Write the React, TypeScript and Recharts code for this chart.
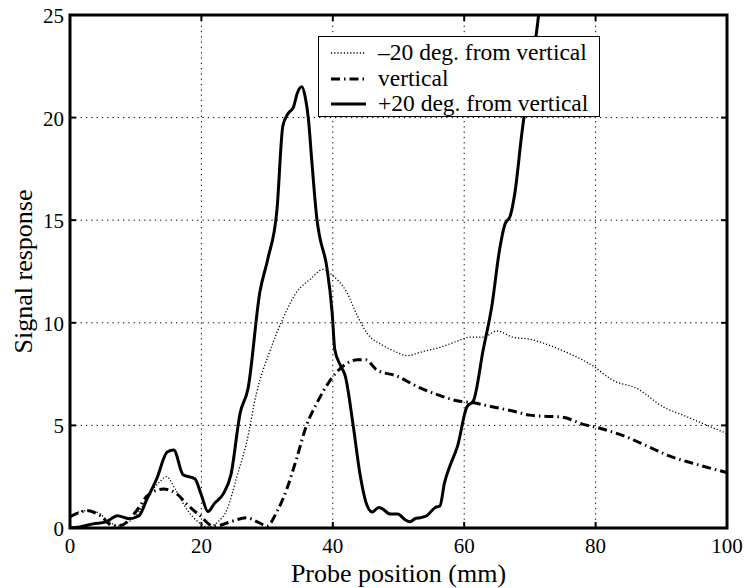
import React from 'react';
import { LineChart, Line, XAxis, YAxis, CartesianGrid, ReferenceArea } from 'recharts';

const FONT = "'Liberation Serif', 'Times New Roman', Times, serif";

// plot box size, used for the inward ticks on the opposite edges
const PLOT_W = 657;
const PLOT_H = 513;

const xTicks = [0, 20, 40, 60, 80, 100];
const yTicks = [0, 5, 10, 15, 20, 25];

// -20 deg. from vertical (dotted)
const minusX = [0, 1.5, 3, 4.5, 6, 7.5, 9, 10.5, 12, 13.5, 14.7, 16, 17.8, 19.5, 21, 22.5, 23.9, 25.4, 26.9, 28.4, 30.4, 32.4, 34.5, 36.5, 38.5, 40, 42.1, 43.8, 45.2, 47.6, 49.5, 51.3, 53.7, 56.3, 58.9, 60.9, 62.9, 65, 67.4, 70, 73, 76, 79.6, 82.6, 86.3, 90.3, 93.3, 97, 100];
const minusY = [0.5, 0.8, 0.85, 0.7, 0.3, 0.1, 0.3, 0.8, 1.6, 2.2, 2.5, 1.9, 0.9, 0.3, 0.05, 0.3, 0.9, 2.5, 4.2, 6.6, 8.6, 10.2, 11.5, 12.1, 12.6, 12.3, 11.5, 10.3, 9.5, 8.9, 8.6, 8.4, 8.6, 8.8, 9.1, 9.3, 9.3, 9.6, 9.3, 9.2, 8.9, 8.5, 7.9, 7.2, 6.8, 5.9, 5.5, 5.0, 4.6];

// vertical (dash-dot)
const vertX = [0, 1, 2.6, 4.6, 6.6, 8, 9.1, 10.5, 11.7, 14.2, 16.3, 17.8, 19.8, 21.8, 23, 24.4, 26.9, 28.5, 30, 31.5, 33, 34.5, 36, 37.6, 39.6, 41.6, 43.8, 45, 46.7, 49.8, 52.8, 55.9, 58.9, 61.4, 64.4, 67.4, 70, 72, 75, 78, 80.2, 84.2, 87.8, 91.3, 95.4, 100];
const vertY = [0.55, 0.7, 0.85, 0.6, 0.1, 0.15, 0.45, 1.0, 1.55, 1.9, 1.65, 1.15, 0.6, 0.1, 0.15, 0.3, 0.5, 0.3, 0.1, 0.8, 1.9, 3.4, 5.0, 6.1, 7.2, 7.9, 8.2, 8.2, 7.7, 7.4, 6.9, 6.5, 6.2, 6.1, 5.9, 5.7, 5.5, 5.45, 5.4, 5.06, 4.9, 4.5, 4.0, 3.5, 3.1, 2.7];

// +20 deg. from vertical (solid)
const plusX = [0, 1.5, 3.5, 5.5, 7.2, 9, 10.5, 11.7, 13.2, 14.8, 15.8, 17.2, 19, 20, 21, 22, 23.3, 24.5, 25.9, 27.1, 28.9, 30.1, 31.5, 32.4, 33.2, 34, 34.6, 35.3, 35.8, 36.3, 36.8, 37.6, 38, 39.1, 39.9, 40.3, 41.2, 41.9, 43.1, 44.1, 45, 46, 47, 47.5, 48.7, 49.9, 51, 51.7, 52.5, 53.3, 54.3, 55.6, 56.3, 57, 57.8, 59, 60.4, 61.4, 62.9, 64.2, 65.4, 66.2, 67, 67.7, 68.8, 70, 71.1, 72, 73];
const plusY = [0, 0.05, 0.2, 0.3, 0.6, 0.45, 0.6, 1.4, 2.4, 3.7, 3.8, 2.6, 2.4, 1.6, 0.8, 1.2, 1.65, 2.6, 5.6, 6.8, 11.5, 13.1, 15.5, 19.6, 20.2, 20.5, 21.2, 21.5, 21.0, 19.9, 17.9, 15.0, 14.2, 12.7, 10.5, 8.7, 7.9, 7.4, 5.0, 2.7, 1.3, 0.78, 1.0, 0.95, 0.68, 0.68, 0.4, 0.3, 0.45, 0.5, 0.6, 1.0, 1.07, 2.2, 3.0, 4.0, 5.9, 6.2, 8.7, 10.8, 13.6, 14.8, 15.2, 16.3, 19.3, 22.0, 24.4, 27.0, 30.0];

const legendLabels = ['\u201320 deg. from vertical', 'vertical', '+20 deg. from vertical'];
const legendDash = ['1.2 2', '9 4 1.5 4', undefined];
const legendWidth = [1.3, 3, 3];

const toPoints = (xs: number[], ys: number[]) => xs.map((x, i) => ({ x, y: ys[i] }));

const BottomTick = (props: any) => {
  const { x, y, payload } = props;
  return (
    <g>
      <line x1={x} y1={y} x2={x} y2={y - 6} stroke="#000" strokeWidth={2} />
      <line x1={x} y1={y - PLOT_H} x2={x} y2={y - PLOT_H + 6} stroke="#000" strokeWidth={2} />
      <text x={x} y={y + 25} textAnchor="middle" fontSize={21} fontFamily={FONT} fill="#000">
        {payload.value}
      </text>
    </g>
  );
};

const LeftTick = (props: any) => {
  const { x, y, payload } = props;
  return (
    <g>
      <line x1={x} y1={y} x2={x + 6} y2={y} stroke="#000" strokeWidth={2} />
      <line x1={x + PLOT_W} y1={y} x2={x + PLOT_W - 6} y2={y} stroke="#000" strokeWidth={2} />
      <text x={x - 6} y={y + 8} textAnchor="end" fontSize={21} fontFamily={FONT} fill="#000">
        {payload.value}
      </text>
    </g>
  );
};

const XTitle = (props: any) => {
  const vb = props.viewBox || { x: 70, y: 528, width: PLOT_W, height: 60 };
  const cx = vb.x + vb.width / 2;
  return (
    <text x={cx} y={582} textAnchor="middle" fontSize={26} fontFamily={FONT} fill="#000">
      Probe position (mm)
    </text>
  );
};

const YTitle = (props: any) => {
  const vb = props.viewBox || { x: 0, y: 15, width: 70, height: PLOT_H };
  const cy = vb.y + vb.height / 2;
  const cx = 32;
  return (
    <text x={cx} y={cy} transform={`rotate(-90 ${cx} ${cy})`} textAnchor="middle" fontSize={26} fontFamily={FONT} fill="#000">
      Signal response
    </text>
  );
};

const LegendBox = () => (
  <div
    style={{
      position: 'absolute',
      left: 318,
      top: 36,
      width: 282,
      height: 81,
      boxSizing: 'border-box',
      border: '1.5px solid #000',
      background: '#fff',
      fontFamily: FONT,
      fontSize: 23.5,
      color: '#000',
    }}
  >
    {legendLabels.map((label, i) => (
      <div key={label} style={{ position: 'absolute', left: 0, top: 3 + i * 25.5, height: 25, width: '100%' }}>
        <svg width={50} height={25} style={{ position: 'absolute', left: 10, top: 0 }}>
          <line x1={2} y1={13} x2={37} y2={13} stroke="#000" strokeWidth={legendWidth[i]} strokeDasharray={legendDash[i]} />
        </svg>
        <span style={{ position: 'absolute', left: 59, top: -2, whiteSpace: 'nowrap', lineHeight: '28px' }}>{label}</span>
      </div>
    ))}
  </div>
);

export default function App() {
  return (
    <div style={{ position: 'absolute', left: 0, top: 0, width: 746, height: 588, background: '#fff' }}>
      <LineChart width={746} height={588} margin={{ top: 15, right: 19, bottom: 0, left: 0 }}>
        <CartesianGrid stroke="#000" strokeWidth={1} strokeDasharray="1.3 4" />
        <XAxis
          dataKey="x"
          type="number"
          domain={[0, 100]}
          ticks={xTicks}
          allowDataOverflow
          height={60}
          tickSize={0}
          tickMargin={0}
          tickLine={false}
          axisLine={false}
          tick={<BottomTick />}
          label={<XTitle />}
        />
        <YAxis
          type="number"
          domain={[0, 25]}
          ticks={yTicks}
          allowDataOverflow
          width={70}
          tickSize={0}
          tickMargin={0}
          tickLine={false}
          axisLine={false}
          tick={<LeftTick />}
          label={<YTitle />}
        />
        <Line
          data={toPoints(minusX, minusY)}
          dataKey="y"
          type="monotone"
          stroke="#000"
          strokeWidth={1.3}
          strokeDasharray="1.2 2"
          dot={false}
          isAnimationActive={false}
        />
        <Line
          data={toPoints(vertX, vertY)}
          dataKey="y"
          type="monotone"
          stroke="#000"
          strokeWidth={3}
          strokeDasharray="9 4 1.5 4"
          dot={false}
          isAnimationActive={false}
        />
        <Line
          data={toPoints(plusX, plusY)}
          dataKey="y"
          type="monotone"
          stroke="#000"
          strokeWidth={3}
          dot={false}
          isAnimationActive={false}
        />
        <ReferenceArea x1={0} x2={100} y1={0} y2={25} fill="none" fillOpacity={0} stroke="#000" strokeWidth={3} ifOverflow="visible" />
      </LineChart>
      <LegendBox />
    </div>
  );
}
